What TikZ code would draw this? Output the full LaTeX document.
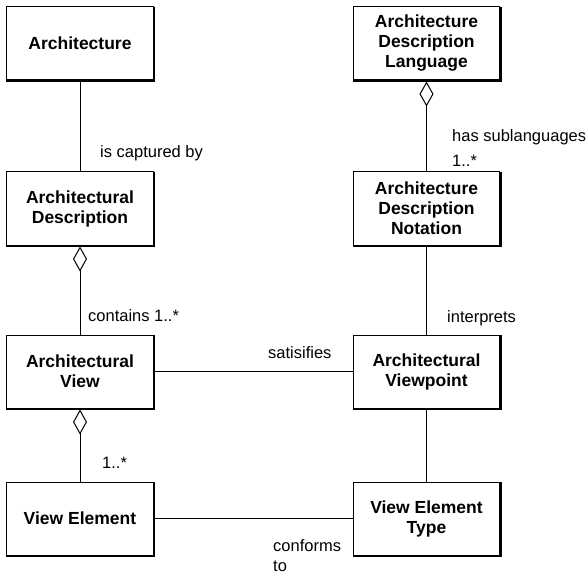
\documentclass[tikz,border=0pt]{standalone}
\usepackage{fontspec}
\setmainfont{Liberation Sans}
\usetikzlibrary{arrows.meta}
\tikzset{
  x=1bp, y=-1bp,
  cls/.style={draw, line width=1bp, minimum width=146bp, minimum height=73bp, inner sep=0pt,
    align=center, font=\fontsize{17.5bp}{20bp}\selectfont\bfseries},
  lbl/.style={anchor=base west, inner sep=0pt, font=\fontsize{16.5bp}{20bp}\selectfont},
  assoc/.style={line width=1bp},
  agg/.style={line width=1bp, {Diamond[open,length=25bp,width=14bp,line width=1bp]}-},
  shade/.style={line width=2bp}
}
\begin{document}
\begin{tikzpicture}
\useasboundingbox (0,0) rectangle (587,574);
\node[cls] (arch) at (80,43.5) {Architecture};
\node[cls] (ad) at (80,208.5) {Architectural\\Description};
\node[cls] (av) at (80,371.5) {Architectural\\View};
\node[cls] (ve) at (80,518.5) {View Element};
\node[cls] (adl) at (426.5,43.5) {Architecture\\Description\\Language};
\node[cls] (adn) at (426.5,208.5) {Architecture\\Description\\Notation};
\node[cls] (avp) at (426.5,371.5) {Architectural\\Viewpoint};
\node[cls] (vet) at (426.5,518.5) {View Element\\Type};
\foreach \n in {arch,ad,av,ve,adl,adn,avp,vet}{
  \draw[shade] ([xshift=0.5bp,yshift=-0.5bp]\n.north east) -- ([xshift=0.5bp,yshift=-0.5bp]\n.south east) -- ([xshift=-0.5bp,yshift=-0.5bp]\n.south west);
}
\draw[assoc] (arch.south) -- (ad.north);
\draw[agg] ([yshift=-1bp]ad.south) -- (av.north);
\draw[agg] ([yshift=-1bp]av.south) -- (ve.north);
\draw[agg] ([yshift=-1bp]adl.south) -- (adn.north);
\draw[assoc] (adn.south) -- (avp.north);
\draw[assoc] (avp.south) -- (vet.north);
\draw[assoc] (av.east) -- (avp.west);
\draw[assoc] (ve.east) -- (vet.west);
\node[lbl] (l1) at (100,158) {is captured by};
\node[lbl] (l2) at (88,321) {contains 1..*};
\node[lbl] (l3) at (102,468) {1..*};
\node[lbl] (l4) at (268,358) {satisifies};
\node[lbl] (l5) at (273,551) {conforms};
\node[lbl] (l6) at (273,571) {to};
\node[lbl] (l7) at (452,142) {has sublanguages};
\node[lbl] (l8) at (452,166.5) {1..*};
\node[lbl] (l9) at (447,322) {interprets};
\end{tikzpicture}
\end{document}
